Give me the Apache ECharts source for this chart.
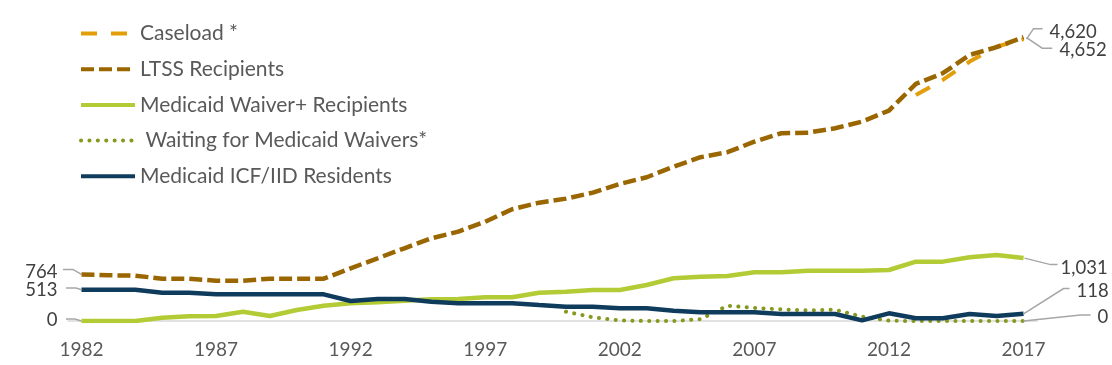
<!DOCTYPE html>
<html>
<head>
<meta charset="utf-8">
<script src="https://cdn.jsdelivr.net/npm/echarts@6/dist/echarts.min.js"></script>
<style>
html,body{margin:0;padding:0;background:#fff;}
#chart{width:1112px;height:365px;}
</style>
</head>
<body>
<div id="chart"></div>
<script>
const years = ['1982','1983','1984','1985','1986','1987','1988','1989','1990','1991',
  '1992','1993','1994','1995','1996','1997','1998','1999','2000','2001',
  '2002','2003','2004','2005','2006','2007','2008','2009','2010','2011',
  '2012','2013','2014','2015','2016','2017'];
const xTickLabels = ['1982','1987','1992','1997','2002','2007','2012','2017'];

const caseload = [null,null,null,null,null,null,null,null,null,null,
  null,null,null,null,null,null,null,null,null,null,
  null,null,null,null,null,null,null,null,null,null,
  null,3706,3952,4253,4498,4620];
const ltss = [764,750,743,694,694,661,661,694,694,694,
  864,1028,1192,1356,1465,1628,1831,1940,2006,2104,
  2247,2357,2530,2685,2767,2940,3078,3088,3160,3269,
  3449,3887,4062,4362,4489,4652];
const waiverPlus = [0,0,0,54,77,82,153,82,180,251,
  290,306,333,356,361,388,388,464,480,508,
  508,590,700,727,738,798,798,825,825,825,
  836,973,973,1044,1082,1031];
const waiting = [null,null,null,null,null,null,null,null,null,null,
  null,null,null,null,null,null,null,null,153,60,
  10,0,0,30,251,215,190,175,185,71,
  5,0,0,0,0,0];
const icf = [513,513,513,464,464,437,437,437,437,437,
  328,361,361,317,290,290,290,262,235,235,
  208,208,169,142,142,142,115,115,115,10,
  126,44,44,115,82,118];

const FONT = 'Lato';
const TXT = '#595959';
const VAL = '#404040';
const LEAD = '#A6A6A6';

const chart = echarts.init(document.getElementById('chart'));
const option = {
  animation: false,
  backgroundColor: '#ffffff',
  grid: {left: 68, right: 75, top: 16, bottom: 44},
  legend: {
    orient: 'vertical', left: 79, top: 23, padding: 0,
    itemWidth: 54, itemHeight: 14, itemGap: 14.7,
    itemStyle: {opacity: 0},
    lineStyle: {width: 4},
    textStyle: {fontFamily: FONT, fontSize: 21, color: TXT, lineHeight: 20},
    data: ['Caseload *','LTSS Recipients','Medicaid Waiver+ Recipients',' Waiting for Medicaid Waivers*','Medicaid ICF/IID Residents']
  },
  xAxis: {
    type: 'category', data: years, boundaryGap: true,
    axisLine: {lineStyle: {color: '#D9D9D9', width: 1.5}},
    axisTick: {interval: 0, length: 5, lineStyle: {color: '#D9D9D9', width: 1.5}},
    axisLabel: {
      interval: 0, margin: 19, fontFamily: FONT, fontSize: 19, color: TXT,
      formatter: v => xTickLabels.indexOf(v) >= 0 ? v : ''
    }
  },
  yAxis: {type: 'value', min: 0, max: 5000, show: false, splitLine: {show: false}},
  series: [
    {name: 'Caseload *', type: 'line', data: caseload, symbol: 'none', connectNulls: false,
     lineStyle: {color: '#E39E0B', width: 4, type: [16, 14]}, itemStyle: {color: '#E39E0B'}, z: 2},
    {name: 'LTSS Recipients', type: 'line', data: ltss, symbol: 'none',
     lineStyle: {color: '#9A6600', width: 4.5, type: [13, 5]}, itemStyle: {color: '#9A6600'}, z: 3},
    {name: 'Medicaid Waiver+ Recipients', type: 'line', data: waiverPlus, symbol: 'none',
     lineStyle: {color: '#B3CB35', width: 4.5}, itemStyle: {color: '#B3CB35'}, z: 3},
    {name: ' Waiting for Medicaid Waivers*', type: 'line', data: waiting, symbol: 'none',
     lineStyle: {color: '#86991F', width: 4, type: [0.1, 8.3], cap: 'round'}, itemStyle: {color: '#86991F'}, z: 4},
    {name: 'Medicaid ICF/IID Residents', type: 'line', data: icf, symbol: 'none',
     lineStyle: {color: '#0F3B5C', width: 4.5}, itemStyle: {color: '#0F3B5C'}, z: 5}
  ]
};
chart.setOption(option);

const fmt = v => v.toLocaleString('en-US');
const last = years.length - 1;
const callouts = [
  {arr: caseload, i: last, pts: [[3,0],[10,-10.5],[19,-10.5]], tx: 26, ty: -7.5, align: 'left'},
  {arr: ltss, i: last, pts: [[3,0.5],[18.7,11],[28.7,11]], tx: 36, ty: 12.5, align: 'left'},
  {arr: waiverPlus, i: last, pts: [[1,0],[27,6.5],[34,6.5]], tx: 37, ty: 10, align: 'left'},
  {arr: icf, i: last, pts: [[0,0],[40,-25.3],[46,-25.3]], tx: 53, ty: -23, align: 'left'},
  {arr: waiting, i: last, pts: [[0,0],[57,-6],[67,-6]], tx: 74, ty: -3.5, align: 'left'},
  {arr: ltss, i: 0, pts: [[0,0],[-8.5,-5],[-18.5,-5]], tx: -24, ty: -2.4, align: 'right'},
  {arr: icf, i: 0, pts: [[0,0],[-5.5,-1.6],[-15.5,-1.6]], tx: -24, ty: 0.2, align: 'right'},
  {arr: waiverPlus, i: 0, pts: [[0,0],[-6.5,-2],[-15.5,-2]], tx: -24, ty: -0.5, align: 'right'}
];
const graphics = [];
callouts.forEach(c => {
  const p = chart.convertToPixel({xAxisIndex: 0, yAxisIndex: 0}, [years[c.i], c.arr[c.i]]);
  graphics.push({type: 'polyline', silent: true, z: 10,
    shape: {points: c.pts.map(d => [p[0] + d[0], p[1] + d[1]])},
    style: {stroke: LEAD, lineWidth: 1.5, fill: null}});
  graphics.push({type: 'text', silent: true, z: 10, x: p[0] + c.tx, y: p[1] + c.ty,
    style: {text: fmt(c.arr[c.i]), fontFamily: FONT, fontSize: 18.5, fill: VAL,
      align: c.align, verticalAlign: 'middle'}});
});
chart.setOption({graphic: graphics});
</script>
</body>
</html>
